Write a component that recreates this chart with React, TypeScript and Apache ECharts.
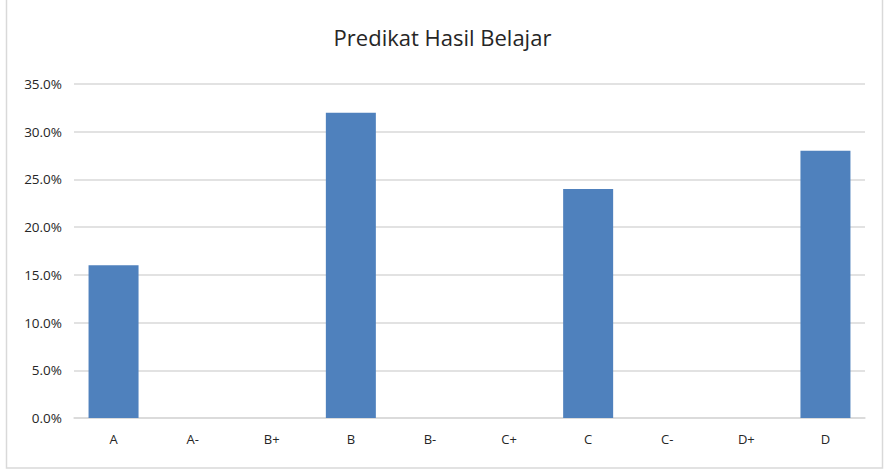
import React, { useEffect, useRef } from "react";
import * as echarts from "echarts";

const categories = ["A", "A-", "B+", "B", "B-", "C+", "C", "C-", "D+", "D"];
const values = [16, 0, 0, 32, 0, 0, 24, 0, 0, 28];
const title = "Predikat Hasil Belajar";

export default function App() {
  const ref = useRef<HTMLDivElement>(null);
  useEffect(() => {
    if (!ref.current) return;
    const chart = echarts.init(ref.current, null, { renderer: "svg" });
    chart.setOption({
      animation: false,
      backgroundColor: "#ffffff",
      title: {
        text: title,
        left: "center",
        top: 21,
        textStyle: { fontFamily: "Open Sans", fontSize: 22, fontWeight: "normal", color: "#262626" },
      },
      graphic: [
        {
          type: "rect",
          shape: { x: 6.5, y: -2, width: 876, height: 470 },
          style: { fill: "none", stroke: "#d9d9d9", lineWidth: 1.5 },
          silent: true,
        },
      ],
      grid: { left: 74, right: 20, top: 84, bottom: 57, containLabel: false },
      xAxis: {
        type: "category",
        data: categories,
        axisLine: { show: true, lineStyle: { color: "#d9d9d9", width: 1.5 } },
        axisTick: { show: false },
        axisLabel: { color: "#262626", fontFamily: "Open Sans", fontSize: 13, margin: 14 },
      },
      yAxis: {
        type: "value",
        min: 0,
        max: 35,
        interval: 5,
        axisLine: { show: false },
        axisTick: { show: false },
        splitLine: { lineStyle: { color: "#d9d9d9", width: 1.5 } },
        axisLabel: {
          color: "#262626",
          fontFamily: "Open Sans",
          fontSize: 13.5,
          margin: 12,
          formatter: (v: number) => v.toFixed(1) + "%",
        },
      },
      series: [
        {
          type: "bar",
          data: values,
          barWidth: 50,
          itemStyle: { color: "#4f81bd" },
        },
      ],
    });
    return () => chart.dispose();
  }, []);
  return <div ref={ref} style={{ width: 885, height: 475, position: "absolute", left: 0, top: 0 }} />;
}
